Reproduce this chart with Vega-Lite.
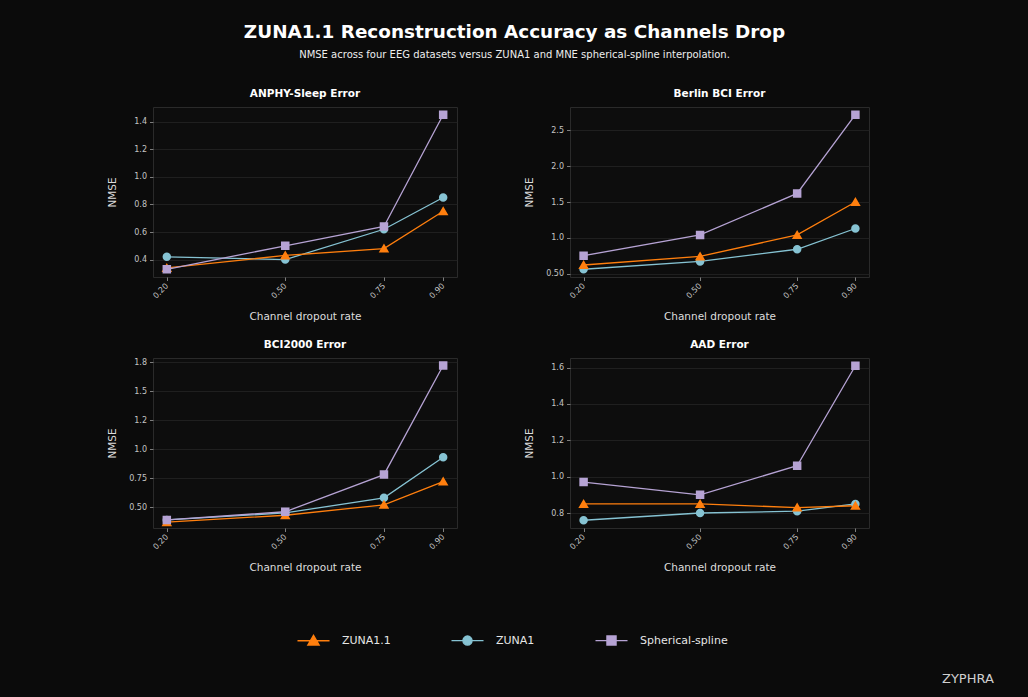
{
  "$schema": "https://vega.github.io/schema/vega-lite/v6.json",
  "background": "#0b0b0b",
  "padding": {"left": 106, "top": 22, "right": 60, "bottom": 40},
  "title": {
    "text": "ZUNA1.1 Reconstruction Accuracy as Channels Drop",
    "subtitle": "NMSE across four EEG datasets versus ZUNA1 and MNE spherical-spline interpolation.",
    "anchor": "start",
    "align": "center",
    "dx": 408,
    "font": "DejaVu Sans",
    "fontSize": 18.4,
    "fontWeight": "bold",
    "color": "#ffffff",
    "subtitleFont": "DejaVu Sans",
    "subtitleFontSize": 10,
    "subtitleColor": "#eeeeee",
    "subtitlePadding": 9,
    "offset": 28
  },
  "data": {
    "values": [
      {"panel": "ANPHY-Sleep", "method": "ZUNA1", "rate": 0.2, "nmse": 0.42},
      {"panel": "ANPHY-Sleep", "method": "ZUNA1", "rate": 0.5, "nmse": 0.40},
      {"panel": "ANPHY-Sleep", "method": "ZUNA1", "rate": 0.75, "nmse": 0.62},
      {"panel": "ANPHY-Sleep", "method": "ZUNA1", "rate": 0.9, "nmse": 0.85},
      {"panel": "ANPHY-Sleep", "method": "ZUNA1.1", "rate": 0.2, "nmse": 0.34},
      {"panel": "ANPHY-Sleep", "method": "ZUNA1.1", "rate": 0.5, "nmse": 0.43},
      {"panel": "ANPHY-Sleep", "method": "ZUNA1.1", "rate": 0.75, "nmse": 0.48},
      {"panel": "ANPHY-Sleep", "method": "ZUNA1.1", "rate": 0.9, "nmse": 0.75},
      {"panel": "ANPHY-Sleep", "method": "Spherical-spline", "rate": 0.2, "nmse": 0.33},
      {"panel": "ANPHY-Sleep", "method": "Spherical-spline", "rate": 0.5, "nmse": 0.50},
      {"panel": "ANPHY-Sleep", "method": "Spherical-spline", "rate": 0.75, "nmse": 0.64},
      {"panel": "ANPHY-Sleep", "method": "Spherical-spline", "rate": 0.9, "nmse": 1.45},
      {"panel": "Berlin BCI", "method": "ZUNA1", "rate": 0.2, "nmse": 0.56},
      {"panel": "Berlin BCI", "method": "ZUNA1", "rate": 0.5, "nmse": 0.67},
      {"panel": "Berlin BCI", "method": "ZUNA1", "rate": 0.75, "nmse": 0.84},
      {"panel": "Berlin BCI", "method": "ZUNA1", "rate": 0.9, "nmse": 1.13},
      {"panel": "Berlin BCI", "method": "ZUNA1.1", "rate": 0.2, "nmse": 0.62},
      {"panel": "Berlin BCI", "method": "ZUNA1.1", "rate": 0.5, "nmse": 0.74},
      {"panel": "Berlin BCI", "method": "ZUNA1.1", "rate": 0.75, "nmse": 1.04},
      {"panel": "Berlin BCI", "method": "ZUNA1.1", "rate": 0.9, "nmse": 1.50},
      {"panel": "Berlin BCI", "method": "Spherical-spline", "rate": 0.2, "nmse": 0.75},
      {"panel": "Berlin BCI", "method": "Spherical-spline", "rate": 0.5, "nmse": 1.04},
      {"panel": "Berlin BCI", "method": "Spherical-spline", "rate": 0.75, "nmse": 1.62},
      {"panel": "Berlin BCI", "method": "Spherical-spline", "rate": 0.9, "nmse": 2.72},
      {"panel": "BCI2000", "method": "ZUNA1", "rate": 0.2, "nmse": 0.39},
      {"panel": "BCI2000", "method": "ZUNA1", "rate": 0.5, "nmse": 0.45},
      {"panel": "BCI2000", "method": "ZUNA1", "rate": 0.75, "nmse": 0.58},
      {"panel": "BCI2000", "method": "ZUNA1", "rate": 0.9, "nmse": 0.93},
      {"panel": "BCI2000", "method": "ZUNA1.1", "rate": 0.2, "nmse": 0.37},
      {"panel": "BCI2000", "method": "ZUNA1.1", "rate": 0.5, "nmse": 0.43},
      {"panel": "BCI2000", "method": "ZUNA1.1", "rate": 0.75, "nmse": 0.52},
      {"panel": "BCI2000", "method": "ZUNA1.1", "rate": 0.9, "nmse": 0.72},
      {"panel": "BCI2000", "method": "Spherical-spline", "rate": 0.2, "nmse": 0.39},
      {"panel": "BCI2000", "method": "Spherical-spline", "rate": 0.5, "nmse": 0.46},
      {"panel": "BCI2000", "method": "Spherical-spline", "rate": 0.75, "nmse": 0.78},
      {"panel": "BCI2000", "method": "Spherical-spline", "rate": 0.9, "nmse": 1.72},
      {"panel": "AAD", "method": "ZUNA1", "rate": 0.2, "nmse": 0.76},
      {"panel": "AAD", "method": "ZUNA1", "rate": 0.5, "nmse": 0.80},
      {"panel": "AAD", "method": "ZUNA1", "rate": 0.75, "nmse": 0.81},
      {"panel": "AAD", "method": "ZUNA1", "rate": 0.9, "nmse": 0.85},
      {"panel": "AAD", "method": "ZUNA1.1", "rate": 0.2, "nmse": 0.85},
      {"panel": "AAD", "method": "ZUNA1.1", "rate": 0.5, "nmse": 0.85},
      {"panel": "AAD", "method": "ZUNA1.1", "rate": 0.75, "nmse": 0.83},
      {"panel": "AAD", "method": "ZUNA1.1", "rate": 0.9, "nmse": 0.84},
      {"panel": "AAD", "method": "Spherical-spline", "rate": 0.2, "nmse": 0.97},
      {"panel": "AAD", "method": "Spherical-spline", "rate": 0.5, "nmse": 0.90},
      {"panel": "AAD", "method": "Spherical-spline", "rate": 0.75, "nmse": 1.06},
      {"panel": "AAD", "method": "Spherical-spline", "rate": 0.9, "nmse": 1.61}
    ]
  },
  "columns": 2,
  "spacing": {"row": 17, "column": 64},
  "concat": [
    {
      "width": 304, "height": 170,
      "title": "ANPHY-Sleep Error",
      "transform": [{"filter": "datum.panel === 'ANPHY-Sleep'"}],
      "encoding": {
        "x": {"field": "rate", "type": "quantitative", "scale": {"domain": [0.165, 0.935], "nice": false, "zero": false}, "axis": {"values": [0.2, 0.5, 0.75, 0.9], "format": ".2f", "title": "Channel dropout rate"}},
        "y": {"field": "nmse", "type": "quantitative", "scale": {"domain": [0.274, 1.506], "nice": false, "zero": false}, "axis": {"values": [0.4, 0.6, 0.8, 1.0, 1.2, 1.4], "format": ".1f", "title": "NMSE"}},
        "color": {"field": "method", "type": "nominal", "scale": {"domain": ["ZUNA1.1", "ZUNA1", "Spherical-spline"], "range": ["#ff7f0e", "#86c3d3", "#b6a3d4"]}, "legend": {"title": ["", "ZYPHRA"]}}
      },
      "layer": [
        {"mark": {"type": "line", "strokeWidth": 1.3}},
        {"mark": {"type": "point", "filled": true, "size": 100, "opacity": 1}, "encoding": {"shape": {"field": "method", "type": "nominal", "scale": {"domain": ["ZUNA1.1", "ZUNA1", "Spherical-spline"], "range": ["M-3,0L3,0M0,-1L1.05,0.8L-1.05,0.8Z", "M-3,0L3,0M-0.85,0A0.85,0.85,0,1,0,0.85,0A0.85,0.85,0,1,0,-0.85,0Z", "M-3,0L3,0M-0.85,-0.85L0.85,-0.85L0.85,0.85L-0.85,0.85Z"]}, "legend": {"title": ["", "ZYPHRA"]}}}}
      ]
    },
    {
      "width": 299, "height": 170,
      "title": "Berlin BCI Error",
      "transform": [{"filter": "datum.panel === 'Berlin BCI'"}],
      "encoding": {
        "x": {"field": "rate", "type": "quantitative", "scale": {"domain": [0.165, 0.935], "nice": false, "zero": false}, "axis": {"values": [0.2, 0.5, 0.75, 0.9], "format": ".2f", "title": "Channel dropout rate"}},
        "y": {"field": "nmse", "type": "quantitative", "scale": {"domain": [0.452, 2.828], "nice": false, "zero": false}, "axis": {"values": [0.5, 1.0, 1.5, 2.0, 2.5], "labelExpr": "datum.value === 0.5 ? '0.50' : format(datum.value, '.1f')", "title": "NMSE"}},
        "color": {"field": "method", "type": "nominal", "scale": {"domain": ["ZUNA1.1", "ZUNA1", "Spherical-spline"], "range": ["#ff7f0e", "#86c3d3", "#b6a3d4"]}, "legend": {"title": ["", "ZYPHRA"]}}
      },
      "layer": [
        {"mark": {"type": "line", "strokeWidth": 1.3}},
        {"mark": {"type": "point", "filled": true, "size": 100, "opacity": 1}, "encoding": {"shape": {"field": "method", "type": "nominal", "scale": {"domain": ["ZUNA1.1", "ZUNA1", "Spherical-spline"], "range": ["M-3,0L3,0M0,-1L1.05,0.8L-1.05,0.8Z", "M-3,0L3,0M-0.85,0A0.85,0.85,0,1,0,0.85,0A0.85,0.85,0,1,0,-0.85,0Z", "M-3,0L3,0M-0.85,-0.85L0.85,-0.85L0.85,0.85L-0.85,0.85Z"]}, "legend": {"title": ["", "ZYPHRA"]}}}}
      ]
    },
    {
      "width": 304, "height": 170,
      "title": "BCI2000 Error",
      "transform": [{"filter": "datum.panel === 'BCI2000'"}],
      "encoding": {
        "x": {"field": "rate", "type": "quantitative", "scale": {"domain": [0.165, 0.935], "nice": false, "zero": false}, "axis": {"values": [0.2, 0.5, 0.75, 0.9], "format": ".2f", "title": "Channel dropout rate"}},
        "y": {"field": "nmse", "type": "quantitative", "scale": {"domain": [0.32, 1.785], "nice": false, "zero": false}, "axis": {"values": [0.5, 0.75, 1.0, 1.25, 1.5, 1.75], "labelExpr": "datum.value === 0.5 ? '0.50' : datum.value === 0.75 ? '0.75' : datum.value === 1.25 ? '1.2' : datum.value === 1.75 ? '1.8' : format(datum.value, '.1f')", "title": "NMSE"}},
        "color": {"field": "method", "type": "nominal", "scale": {"domain": ["ZUNA1.1", "ZUNA1", "Spherical-spline"], "range": ["#ff7f0e", "#86c3d3", "#b6a3d4"]}, "legend": {"title": ["", "ZYPHRA"]}}
      },
      "layer": [
        {"mark": {"type": "line", "strokeWidth": 1.3}},
        {"mark": {"type": "point", "filled": true, "size": 100, "opacity": 1}, "encoding": {"shape": {"field": "method", "type": "nominal", "scale": {"domain": ["ZUNA1.1", "ZUNA1", "Spherical-spline"], "range": ["M-3,0L3,0M0,-1L1.05,0.8L-1.05,0.8Z", "M-3,0L3,0M-0.85,0A0.85,0.85,0,1,0,0.85,0A0.85,0.85,0,1,0,-0.85,0Z", "M-3,0L3,0M-0.85,-0.85L0.85,-0.85L0.85,0.85L-0.85,0.85Z"]}, "legend": {"title": ["", "ZYPHRA"]}}}}
      ]
    },
    {
      "width": 299, "height": 170,
      "title": "AAD Error",
      "transform": [{"filter": "datum.panel === 'AAD'"}],
      "encoding": {
        "x": {"field": "rate", "type": "quantitative", "scale": {"domain": [0.165, 0.935], "nice": false, "zero": false}, "axis": {"values": [0.2, 0.5, 0.75, 0.9], "format": ".2f", "title": "Channel dropout rate"}},
        "y": {"field": "nmse", "type": "quantitative", "scale": {"domain": [0.7175, 1.6525], "nice": false, "zero": false}, "axis": {"values": [0.8, 1.0, 1.2, 1.4, 1.6], "format": ".1f", "title": "NMSE"}},
        "color": {"field": "method", "type": "nominal", "scale": {"domain": ["ZUNA1.1", "ZUNA1", "Spherical-spline"], "range": ["#ff7f0e", "#86c3d3", "#b6a3d4"]}, "legend": {"title": ["", "ZYPHRA"]}}
      },
      "layer": [
        {"mark": {"type": "line", "strokeWidth": 1.3}},
        {"mark": {"type": "point", "filled": true, "size": 100, "opacity": 1}, "encoding": {"shape": {"field": "method", "type": "nominal", "scale": {"domain": ["ZUNA1.1", "ZUNA1", "Spherical-spline"], "range": ["M-3,0L3,0M0,-1L1.05,0.8L-1.05,0.8Z", "M-3,0L3,0M-0.85,0A0.85,0.85,0,1,0,0.85,0A0.85,0.85,0,1,0,-0.85,0Z", "M-3,0L3,0M-0.85,-0.85L0.85,-0.85L0.85,0.85L-0.85,0.85Z"]}, "legend": {"title": ["", "ZYPHRA"]}}}}
      ]
    }
  ],
  "resolve": {"scale": {"x": "independent", "y": "independent", "color": "shared", "shape": "shared"}},
  "config": {
    "font": "DejaVu Sans",
    "view": {"fill": "#0d0d0d", "stroke": "#2a2a2a", "strokeWidth": 1},
    "title": {"font": "DejaVu Sans", "fontSize": 10.5, "fontWeight": "bold", "color": "#ffffff", "offset": 8, "anchor": "middle"},
    "axis": {
      "labelFont": "DejaVu Sans", "labelFontSize": 8, "labelColor": "#c4c4c4",
      "titleFont": "DejaVu Sans", "titleFontSize": 10.5, "titleFontWeight": "normal", "titleColor": "#dddddd",
      "tickColor": "#9a9a9a", "tickSize": 3.5, "tickWidth": 0.8,
      "domain": false,
      "gridColor": "#242424", "gridWidth": 0.8
    },
    "axisX": {"grid": false, "labelAngle": -45, "labelAlign": "right", "labelBaseline": "middle", "labelPadding": 4, "minExtent": 24, "maxExtent": 24, "titlePadding": 10},
    "axisY": {"grid": true, "labelPadding": 3, "minExtent": 30, "maxExtent": 30, "titlePadding": 6},
    "legend": {
      "orient": "none", "legendX": 154, "legendY": 527,
      "direction": "horizontal",
      "padding": 0,
      "columnPadding": 57,
      "symbolSize": 114,
      "symbolStrokeWidth": 1.4,
      "labelFont": "DejaVu Sans", "labelFontSize": 11, "labelColor": "#e6e6e6", "labelOffset": 22,
      "titleOrient": "right", "titlePadding": 214,
      "titleFont": "DejaVu Sans", "titleFontSize": 13, "titleFontWeight": "normal", "titleColor": "#cfcfcf",
      "titleLineHeight": 76
    }
  }
}
